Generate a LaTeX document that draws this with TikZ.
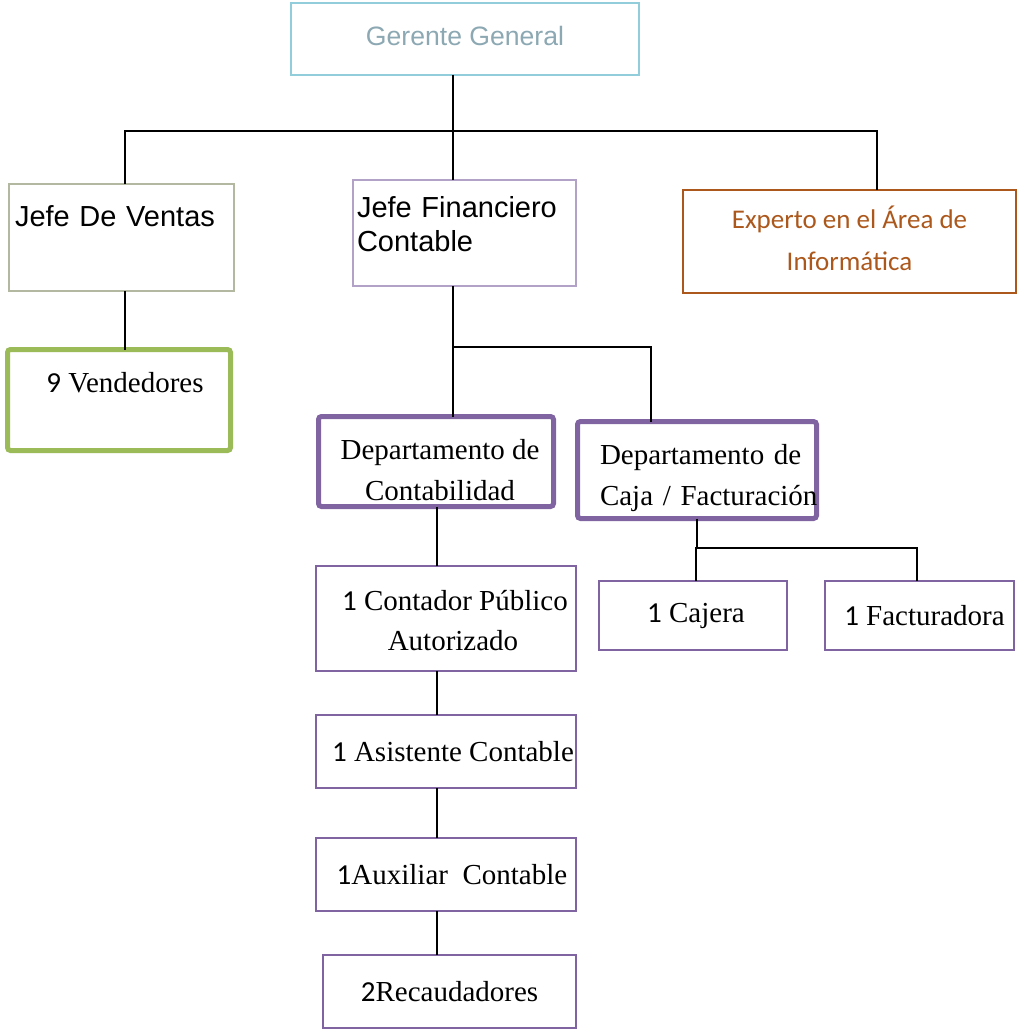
\documentclass[tikz,border=0pt]{standalone}
\usepackage{fontspec}
\setmainfont{Liberation Serif}
\newfontfamily\arialfont{Liberation Sans}
\newfontfamily\calibrifont{Carlito}
\usepackage{tikz}
\usetikzlibrary{positioning, calc}
\definecolor{gerblue}{RGB}{146,205,220}
\definecolor{gertext}{RGB}{140,168,178}
\definecolor{ventgray}{RGB}{178,185,160}
\definecolor{finlav}{RGB}{179,162,199}
\definecolor{infobrown}{RGB}{172,88,28}
\definecolor{vendgreen}{RGB}{155,187,89}
\definecolor{deptpurple}{RGB}{128,100,162}
\newcommand{\cnum}[1]{{\calibrifont #1}}
\tikzset{
  box/.style={rectangle, draw, inner sep=0pt, outer sep=0pt},
  topbox/.style={box, draw=gerblue, line width=2.5pt, text=gertext,
    font=\arialfont\fontsize{26.6pt}{32pt}\selectfont},
  headbox/.style={box, line width=2pt, align=left,
    font=\arialfont\fontsize{29pt}{34pt}\selectfont},
  infobox/.style={box, draw=infobrown, text=infobrown, line width=2pt, align=center,
    font=\calibrifont\fontsize{27pt}{42pt}\selectfont},
  greenbox/.style={box, draw=vendgreen, line width=5pt, rounded corners=3pt,
    font=\fontsize{29pt}{40pt}\selectfont},
  deptbox/.style={box, draw=deptpurple, line width=5pt, rounded corners=3pt,
    align=center, font=\fontsize{29pt}{41pt}\selectfont},
  staffbox/.style={box, draw=deptpurple, line width=2pt, align=center,
    font=\fontsize{29pt}{40pt}\selectfont},
  line/.style={line width=1.5pt, color=black}
}
\begin{document}
\begin{tikzpicture}[x=1pt, y=-1pt]
  \useasboundingbox (0,0) rectangle (1018,1030);
  % top level
  \node[topbox, minimum width=348pt, minimum height=72pt, text height=19pt, text depth=6pt] (gerente) at (465,39) {Gerente General};
  \node[headbox, draw=ventgray, minimum height=107pt, text width=213pt, inner xsep=6pt, text height=21pt, text depth=43pt] (ventas) at (121.5,237.5) {Jefe De Ventas};
  \node[headbox, draw=finlav, minimum height=106pt, text width=215pt, inner xsep=4pt, text height=21pt, text depth=52pt] (financiero) at (464.5,233) {Jefe Financiero\\Contable};
  \node[infobox, minimum width=333pt, minimum height=103pt, text height=60pt, text depth=3pt] (experto) at (849.5,241.5) {Experto en el Área de\\Informática};
  % sales
  \node[greenbox, minimum width=223pt, minimum height=101pt, text height=20pt, text depth=35pt] (vendedores) at (119,400) {\hspace*{12pt}\cnum{9} Vendedores};
  % departments
  \node[deptbox, minimum width=235pt, minimum height=90pt, text height=80pt, text depth=3pt] (contab) at (436,461.5) {\hspace*{8pt}Departamento de\\\hspace*{8pt}Contabilidad};
  \node[deptbox, align=left, minimum height=97pt, text width=194pt, inner xsep=22.5pt, text height=20pt, text depth=32pt] (caja) at (697,470) {\mbox{Departamento de}\\\mbox{Caja / Facturación}};
  % staff
  \node[staffbox, minimum width=260pt, minimum height=105pt, text height=66pt, text depth=3pt] (contador) at (446,618.5) {\hspace*{18pt}\cnum{1} Contador Público\\\hspace*{14pt}Autorizado};
  \node[staffbox, minimum width=188pt, minimum height=69pt] (cajera) at (693,615.5) {\hspace*{6pt}\cnum{1} Cajera};
  \node[staffbox, minimum width=189pt, minimum height=69pt] (facturadora) at (919.5,615.5) {\hspace*{10pt}\cnum{1} Facturadora};
  \node[staffbox, minimum width=260pt, minimum height=73pt] (asistente) at (446,751.5) {\hspace*{14pt}\cnum{1} Asistente Contable};
  \node[staffbox, minimum width=260pt, minimum height=73pt] (auxiliar) at (446,874.5) {\hspace*{12pt}\cnum{1}Auxiliar\ \ Contable};
  \node[staffbox, minimum width=253pt, minimum height=73pt] (recaud) at (449.5,991.5) {\cnum{2}Recaudadores};
  % connectors
  \coordinate (bus) at (453,131);
  \coordinate (fork) at (453,347);
  \coordinate (spine) at (437,0);
  \coordinate (cajabus) at (696,548);
  \draw[line] ([xshift=-12pt]gerente.south) -- ([xshift=-11.5pt]financiero.north);
  \draw[line] ([xshift=3.5pt]ventas.north) |- (bus) -| ([xshift=27.5pt]experto.north);
  \draw[line] ([xshift=3.5pt]ventas.south) -- ([xshift=3.5pt]ventas.south |- vendedores.north);
  \draw[line] ([xshift=-11.5pt]financiero.south) -- ([xshift=-11.5pt]financiero.south |- contab.north);
  \draw[line] (fork) -| ([xshift=-46pt]caja.north);
  \foreach \a/\b in {contab/contador, contador/asistente, asistente/auxiliar, auxiliar/recaud}
    \draw[line] (\a.south -| spine) -- (\b.north -| spine);
  \draw[line] (caja.south) -- (caja.south |- cajabus);
  \draw[line] ([xshift=3pt]cajera.north) |- (cajabus) -| ([xshift=-2.5pt]facturadora.north);
\end{tikzpicture}
\end{document}
